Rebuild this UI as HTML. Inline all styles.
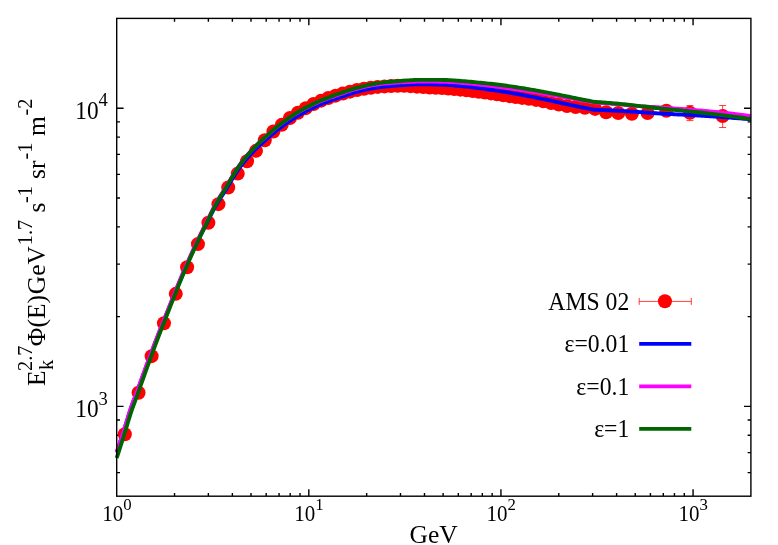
<!DOCTYPE html>
<html><head><meta charset="utf-8"><title>AMS 02 proton spectrum</title>
<style>html,body{margin:0;padding:0;background:#fff;}body{width:778px;height:545px;overflow:hidden;font-family:"Liberation Serif",serif;}svg{display:block;}</style></head>
<body>
<svg width="778" height="545" viewBox="0 0 778 545">
<rect x="0" y="0" width="778" height="545" fill="#fff"/>
<defs><clipPath id="pc"><rect x="113.7" y="18.4" width="640.20" height="477.80"/></clipPath></defs>
<path d="M174.53 496.2 v-3.3 M174.53 18.4 v3.3 M208.37 496.2 v-3.3 M208.37 18.4 v3.3 M232.37 496.2 v-3.3 M232.37 18.4 v3.3 M250.99 496.2 v-3.3 M250.99 18.4 v3.3 M266.20 496.2 v-3.3 M266.20 18.4 v3.3 M279.06 496.2 v-3.3 M279.06 18.4 v3.3 M290.20 496.2 v-3.3 M290.20 18.4 v3.3 M300.03 496.2 v-3.3 M300.03 18.4 v3.3 M308.82 496.2 v-6.9 M308.82 18.4 v6.9 M366.66 496.2 v-3.3 M366.66 18.4 v3.3 M400.49 496.2 v-3.3 M400.49 18.4 v3.3 M424.49 496.2 v-3.3 M424.49 18.4 v3.3 M443.11 496.2 v-3.3 M443.11 18.4 v3.3 M458.32 496.2 v-3.3 M458.32 18.4 v3.3 M471.18 496.2 v-3.3 M471.18 18.4 v3.3 M482.33 496.2 v-3.3 M482.33 18.4 v3.3 M492.15 496.2 v-3.3 M492.15 18.4 v3.3 M500.94 496.2 v-6.9 M500.94 18.4 v6.9 M558.78 496.2 v-3.3 M558.78 18.4 v3.3 M592.61 496.2 v-3.3 M592.61 18.4 v3.3 M616.61 496.2 v-3.3 M616.61 18.4 v3.3 M635.23 496.2 v-3.3 M635.23 18.4 v3.3 M650.44 496.2 v-3.3 M650.44 18.4 v3.3 M663.31 496.2 v-3.3 M663.31 18.4 v3.3 M674.45 496.2 v-3.3 M674.45 18.4 v3.3 M684.27 496.2 v-3.3 M684.27 18.4 v3.3 M693.07 496.2 v-6.9 M693.07 18.4 v6.9 M116.7 472.58 h3.3 M750.9 472.58 h-3.3 M116.7 452.62 h3.3 M750.9 452.62 h-3.3 M116.7 435.32 h3.3 M750.9 435.32 h-3.3 M116.7 420.07 h3.3 M750.9 420.07 h-3.3 M116.7 406.42 h6.9 M750.9 406.42 h-6.9 M116.7 316.64 h3.3 M750.9 316.64 h-3.3 M116.7 264.12 h3.3 M750.9 264.12 h-3.3 M116.7 226.86 h3.3 M750.9 226.86 h-3.3 M116.7 197.96 h3.3 M750.9 197.96 h-3.3 M116.7 174.34 h3.3 M750.9 174.34 h-3.3 M116.7 154.38 h3.3 M750.9 154.38 h-3.3 M116.7 137.08 h3.3 M750.9 137.08 h-3.3 M116.7 121.83 h3.3 M750.9 121.83 h-3.3 M116.7 108.18 h6.9 M750.9 108.18 h-6.9" stroke="#000" stroke-width="1.4" fill="none"/>
<g clip-path="url(#pc)">
<path d="M666.36 106.30 V115.50 M662.86 106.30 h7 M662.86 115.50 h7 M689.91 105.52 V120.62 M686.41 105.52 h7 M686.41 120.62 h7 M722.63 105.53 V127.53 M719.13 105.53 h7 M719.13 127.53 h7" stroke="#ff0000" stroke-width="1" stroke-opacity="0.75" fill="none"/>
<circle cx="124.82" cy="434.26" r="7.0" fill="#ff0000"/>
<circle cx="138.57" cy="392.77" r="7.0" fill="#ff0000"/>
<circle cx="151.61" cy="356.13" r="7.0" fill="#ff0000"/>
<circle cx="163.94" cy="323.32" r="7.0" fill="#ff0000"/>
<circle cx="175.77" cy="293.85" r="7.0" fill="#ff0000"/>
<circle cx="187.11" cy="267.27" r="7.0" fill="#ff0000"/>
<circle cx="197.93" cy="244.12" r="7.0" fill="#ff0000"/>
<circle cx="208.38" cy="222.74" r="7.0" fill="#ff0000"/>
<circle cx="218.43" cy="204.13" r="7.0" fill="#ff0000"/>
<circle cx="228.20" cy="187.44" r="7.0" fill="#ff0000"/>
<circle cx="237.74" cy="173.62" r="7.0" fill="#ff0000"/>
<circle cx="247.03" cy="161.29" r="7.0" fill="#ff0000"/>
<circle cx="256.02" cy="150.83" r="7.0" fill="#ff0000"/>
<circle cx="264.79" cy="140.30" r="7.0" fill="#ff0000"/>
<circle cx="273.37" cy="131.54" r="7.0" fill="#ff0000"/>
<circle cx="281.73" cy="124.85" r="7.0" fill="#ff0000"/>
<circle cx="289.92" cy="117.96" r="7.0" fill="#ff0000"/>
<circle cx="297.95" cy="112.73" r="7.0" fill="#ff0000"/>
<circle cx="305.80" cy="108.16" r="7.0" fill="#ff0000"/>
<circle cx="313.60" cy="104.06" r="7.0" fill="#ff0000"/>
<circle cx="321.11" cy="100.65" r="7.0" fill="#ff0000"/>
<circle cx="328.32" cy="98.07" r="7.0" fill="#ff0000"/>
<circle cx="335.57" cy="95.64" r="7.0" fill="#ff0000"/>
<circle cx="342.80" cy="93.53" r="7.0" fill="#ff0000"/>
<circle cx="349.96" cy="91.66" r="7.0" fill="#ff0000"/>
<circle cx="357.03" cy="90.06" r="7.0" fill="#ff0000"/>
<circle cx="363.98" cy="88.80" r="7.0" fill="#ff0000"/>
<circle cx="370.79" cy="87.71" r="7.0" fill="#ff0000"/>
<circle cx="377.63" cy="86.89" r="7.0" fill="#ff0000"/>
<circle cx="384.47" cy="86.40" r="7.0" fill="#ff0000"/>
<circle cx="391.10" cy="86.03" r="7.0" fill="#ff0000"/>
<circle cx="397.67" cy="85.82" r="7.0" fill="#ff0000"/>
<circle cx="404.17" cy="85.87" r="7.0" fill="#ff0000"/>
<circle cx="410.56" cy="86.17" r="7.0" fill="#ff0000"/>
<circle cx="416.96" cy="86.63" r="7.0" fill="#ff0000"/>
<circle cx="423.32" cy="87.10" r="7.0" fill="#ff0000"/>
<circle cx="429.63" cy="87.48" r="7.0" fill="#ff0000"/>
<circle cx="435.86" cy="87.72" r="7.0" fill="#ff0000"/>
<circle cx="442.08" cy="88.02" r="7.0" fill="#ff0000"/>
<circle cx="448.26" cy="88.46" r="7.0" fill="#ff0000"/>
<circle cx="454.38" cy="89.02" r="7.0" fill="#ff0000"/>
<circle cx="460.49" cy="89.66" r="7.0" fill="#ff0000"/>
<circle cx="466.62" cy="90.37" r="7.0" fill="#ff0000"/>
<circle cx="472.74" cy="91.10" r="7.0" fill="#ff0000"/>
<circle cx="478.83" cy="91.84" r="7.0" fill="#ff0000"/>
<circle cx="484.91" cy="92.58" r="7.0" fill="#ff0000"/>
<circle cx="490.99" cy="93.40" r="7.0" fill="#ff0000"/>
<circle cx="497.10" cy="94.27" r="7.0" fill="#ff0000"/>
<circle cx="503.40" cy="95.21" r="7.0" fill="#ff0000"/>
<circle cx="509.65" cy="96.13" r="7.0" fill="#ff0000"/>
<circle cx="515.79" cy="97.02" r="7.0" fill="#ff0000"/>
<circle cx="522.17" cy="97.88" r="7.0" fill="#ff0000"/>
<circle cx="528.98" cy="98.75" r="7.0" fill="#ff0000"/>
<circle cx="536.11" cy="99.92" r="7.0" fill="#ff0000"/>
<circle cx="543.43" cy="101.36" r="7.0" fill="#ff0000"/>
<circle cx="551.08" cy="102.98" r="7.0" fill="#ff0000"/>
<circle cx="558.92" cy="104.59" r="7.0" fill="#ff0000"/>
<circle cx="567.03" cy="106.04" r="7.0" fill="#ff0000"/>
<circle cx="575.62" cy="107.10" r="7.0" fill="#ff0000"/>
<circle cx="584.92" cy="107.83" r="7.0" fill="#ff0000"/>
<circle cx="595.06" cy="108.89" r="7.0" fill="#ff0000"/>
<circle cx="606.12" cy="112.27" r="7.0" fill="#ff0000"/>
<circle cx="618.24" cy="113.06" r="7.0" fill="#ff0000"/>
<circle cx="631.87" cy="113.70" r="7.0" fill="#ff0000"/>
<circle cx="647.63" cy="113.09" r="7.0" fill="#ff0000"/>
<circle cx="666.36" cy="110.80" r="7.0" fill="#ff0000"/>
<circle cx="689.91" cy="112.82" r="7.0" fill="#ff0000"/>
<circle cx="722.63" cy="115.93" r="7.0" fill="#ff0000"/>
<path d="M116.7 452.40 L118.7 446.37 L120.7 440.28 L122.7 434.15 L124.7 427.96 L126.7 421.60 L128.7 415.08 L130.7 408.77 L132.7 403.07 L134.7 397.91 L136.7 392.60 L138.7 387.15 L140.7 381.64 L142.7 376.13 L144.7 370.64 L146.7 365.24 L148.7 359.85 L150.7 354.49 L152.7 349.15 L154.7 343.87 L156.7 338.65 L158.7 333.51 L160.7 328.44 L162.7 323.42 L164.7 318.45 L166.7 313.48 L168.7 308.52 L170.7 303.53 L172.7 298.52 L174.7 293.53 L176.7 288.58 L178.7 283.70 L180.7 278.91 L182.7 274.22 L184.7 269.59 L186.7 265.02 L188.7 260.52 L190.7 256.10 L192.7 251.75 L194.7 247.49 L196.7 243.31 L198.7 239.22 L200.7 235.18 L202.7 231.20 L204.7 227.24 L206.7 223.30 L208.7 219.37 L210.7 215.39 L212.7 211.45 L214.7 207.66 L216.7 204.12 L218.7 200.82 L220.7 197.67 L222.7 194.59 L224.7 191.51 L226.7 188.35 L228.7 185.04 L230.7 181.61 L232.7 178.19 L234.7 174.89 L236.7 171.83 L238.7 168.95 L240.7 166.21 L242.7 163.58 L244.7 161.08 L246.7 158.68 L248.7 156.39 L250.7 154.18 L252.7 152.06 L254.7 150.01 L256.7 148.02 L258.7 146.10 L260.7 144.26 L262.7 142.47 L264.7 140.73 L266.7 139.01 L268.7 137.29 L270.7 135.56 L272.7 133.85 L274.7 132.17 L276.7 130.52 L278.7 128.95 L280.7 127.45 L282.7 125.98 L284.7 124.54 L286.7 123.13 L288.7 121.75 L290.7 120.40 L292.7 119.09 L294.7 117.81 L296.7 116.56 L298.7 115.36 L300.7 114.20 L302.7 113.07 L304.7 111.97 L306.7 110.90 L308.7 109.87 L310.7 108.86 L312.7 107.88 L314.7 106.93 L316.7 106.01 L318.7 105.12 L320.7 104.25 L322.7 103.43 L324.7 102.64 L326.7 101.89 L328.7 101.16 L330.7 100.46 L332.7 99.77 L334.7 99.10 L336.7 98.42 L338.7 97.74 L340.7 97.06 L342.7 96.37 L344.7 95.68 L346.7 95.00 L348.7 94.33 L350.7 93.68 L352.7 93.05 L354.7 92.44 L356.7 91.87 L358.7 91.33 L360.7 90.83 L362.7 90.35 L364.7 89.89 L366.7 89.45 L368.7 89.03 L370.7 88.64 L372.7 88.27 L374.7 87.92 L376.7 87.61 L378.7 87.32 L380.7 87.06 L382.7 86.82 L384.7 86.60 L386.7 86.39 L388.7 86.19 L390.7 86.00 L392.7 85.83 L394.7 85.66 L396.7 85.51 L398.7 85.36 L400.7 85.22 L402.7 85.08 L404.7 84.94 L406.7 84.80 L408.7 84.66 L410.7 84.53 L412.7 84.43 L414.7 84.34 L416.7 84.28 L418.7 84.25 L420.7 84.25 L422.7 84.27 L424.7 84.29 L426.7 84.31 L428.7 84.34 L430.7 84.37 L432.7 84.40 L434.7 84.44 L436.7 84.48 L438.7 84.52 L440.7 84.56 L442.7 84.63 L444.7 84.73 L446.7 84.86 L448.7 85.00 L450.7 85.17 L452.7 85.34 L454.7 85.52 L456.7 85.70 L458.7 85.89 L460.7 86.06 L462.7 86.25 L464.7 86.46 L466.7 86.67 L468.7 86.91 L470.7 87.15 L472.7 87.40 L474.7 87.65 L476.7 87.91 L478.7 88.16 L480.7 88.42 L482.7 88.68 L484.7 88.94 L486.7 89.21 L488.7 89.48 L490.7 89.75 L492.7 90.03 L494.7 90.32 L496.7 90.61 L498.7 90.90 L500.7 91.21 L502.7 91.52 L504.7 91.84 L506.7 92.17 L508.7 92.51 L510.7 92.86 L512.7 93.21 L514.7 93.57 L516.7 93.93 L518.7 94.29 L520.7 94.66 L522.7 95.03 L524.7 95.40 L526.7 95.78 L528.7 96.17 L530.7 96.56 L532.7 96.95 L534.7 97.34 L536.7 97.74 L538.7 98.14 L540.7 98.54 L542.7 98.95 L544.7 99.36 L546.7 99.78 L548.7 100.20 L550.7 100.63 L552.7 101.06 L554.7 101.50 L556.7 101.93 L558.7 102.37 L560.7 102.81 L562.7 103.25 L564.7 103.69 L566.7 104.14 L568.7 104.59 L570.7 105.03 L572.7 105.47 L574.7 105.90 L576.7 106.33 L578.7 106.74 L580.7 107.14 L582.7 107.53 L584.7 107.92 L586.7 108.31 L588.7 108.69 L590.7 109.08 L592.7 109.46 L594.0 109.70 L596.0 109.78 L598.0 109.86 L600.0 109.94 L602.0 110.03 L604.0 110.12 L606.0 110.21 L608.0 110.30 L610.0 110.39 L612.0 110.49 L614.0 110.59 L616.0 110.69 L618.0 110.79 L620.0 110.90 L622.0 111.01 L624.0 111.12 L626.0 111.24 L628.0 111.37 L630.0 111.50 L632.0 111.63 L634.0 111.76 L636.0 111.90 L638.0 112.04 L640.0 112.17 L642.0 112.31 L644.0 112.45 L646.0 112.59 L648.0 112.73 L650.0 112.86 L652.0 113.00 L654.0 113.13 L656.0 113.26 L658.0 113.38 L660.0 113.50 L662.0 113.62 L664.0 113.73 L666.0 113.83 L668.0 113.94 L670.0 114.04 L672.0 114.14 L674.0 114.24 L676.0 114.34 L678.0 114.44 L680.0 114.54 L682.0 114.64 L684.0 114.73 L686.0 114.83 L688.0 114.94 L690.0 115.04 L692.0 115.14 L694.0 115.25 L696.0 115.36 L698.0 115.48 L700.0 115.60 L702.0 115.72 L704.0 115.85 L706.0 115.97 L708.0 116.10 L710.0 116.23 L712.0 116.37 L714.0 116.50 L716.0 116.64 L718.0 116.77 L720.0 116.91 L722.0 117.05 L724.0 117.20 L726.0 117.34 L728.0 117.49 L730.0 117.64 L732.0 117.79 L734.0 117.94 L736.0 118.10 L738.0 118.25 L740.0 118.41 L742.0 118.57 L744.0 118.73 L746.0 118.89 L748.0 119.06 L750.0 119.22 L750.9 119.30" stroke="#0000ff" stroke-width="3.9" fill="none" stroke-linejoin="round"/>
<path d="M116.7 452.50 L118.7 446.41 L120.7 440.27 L122.7 434.09 L124.7 427.85 L126.7 421.46 L128.7 414.90 L130.7 408.56 L132.7 402.83 L134.7 397.66 L136.7 392.33 L138.7 386.88 L140.7 381.36 L142.7 375.84 L144.7 370.36 L146.7 364.95 L148.7 359.56 L150.7 354.18 L152.7 348.84 L154.7 343.55 L156.7 338.33 L158.7 333.18 L160.7 328.11 L162.7 323.09 L164.7 318.10 L166.7 313.12 L168.7 308.13 L170.7 303.12 L172.7 298.08 L174.7 293.06 L176.7 288.08 L178.7 283.17 L180.7 278.35 L182.7 273.62 L184.7 268.94 L186.7 264.32 L188.7 259.76 L190.7 255.27 L192.7 250.85 L194.7 246.49 L196.7 242.22 L198.7 238.03 L200.7 233.89 L202.7 229.79 L204.7 225.73 L206.7 221.68 L208.7 217.63 L210.7 213.53 L212.7 209.48 L214.7 205.58 L216.7 201.95 L218.7 198.57 L220.7 195.37 L222.7 192.24 L224.7 189.12 L226.7 185.92 L228.7 182.56 L230.7 179.09 L232.7 175.63 L234.7 172.29 L236.7 169.18 L238.7 166.28 L240.7 163.49 L242.7 160.83 L244.7 158.29 L246.7 155.86 L248.7 153.54 L250.7 151.30 L252.7 149.15 L254.7 147.07 L256.7 145.06 L258.7 143.11 L260.7 141.25 L262.7 139.44 L264.7 137.67 L266.7 135.92 L268.7 134.18 L270.7 132.43 L272.7 130.69 L274.7 128.97 L276.7 127.31 L278.7 125.70 L280.7 124.18 L282.7 122.69 L284.7 121.24 L286.7 119.81 L288.7 118.42 L290.7 117.06 L292.7 115.74 L294.7 114.47 L296.7 113.23 L298.7 112.05 L300.7 110.91 L302.7 109.80 L304.7 108.74 L306.7 107.70 L308.7 106.70 L310.7 105.73 L312.7 104.79 L314.7 103.89 L316.7 103.00 L318.7 102.15 L320.7 101.32 L322.7 100.52 L324.7 99.75 L326.7 98.99 L328.7 98.25 L330.7 97.53 L332.7 96.83 L334.7 96.13 L336.7 95.43 L338.7 94.75 L340.7 94.06 L342.7 93.37 L344.7 92.68 L346.7 91.99 L348.7 91.31 L350.7 90.65 L352.7 90.01 L354.7 89.40 L356.7 88.82 L358.7 88.28 L360.7 87.78 L362.7 87.30 L364.7 86.84 L366.7 86.39 L368.7 85.97 L370.7 85.57 L372.7 85.20 L374.7 84.86 L376.7 84.54 L378.7 84.26 L380.7 84.02 L382.7 83.79 L384.7 83.58 L386.7 83.39 L388.7 83.22 L390.7 83.06 L392.7 82.91 L394.7 82.77 L396.7 82.64 L398.7 82.52 L400.7 82.41 L402.7 82.30 L404.7 82.18 L406.7 82.06 L408.7 81.95 L410.7 81.84 L412.7 81.75 L414.7 81.68 L416.7 81.62 L418.7 81.60 L420.7 81.60 L422.7 81.62 L424.7 81.63 L426.7 81.64 L428.7 81.64 L430.7 81.65 L432.7 81.66 L434.7 81.67 L436.7 81.67 L438.7 81.68 L440.7 81.69 L442.7 81.72 L444.7 81.79 L446.7 81.87 L448.7 81.98 L450.7 82.10 L452.7 82.23 L454.7 82.37 L456.7 82.52 L458.7 82.66 L460.7 82.80 L462.7 82.95 L464.7 83.11 L466.7 83.29 L468.7 83.48 L470.7 83.68 L472.7 83.88 L474.7 84.09 L476.7 84.30 L478.7 84.51 L480.7 84.72 L482.7 84.93 L484.7 85.14 L486.7 85.35 L488.7 85.57 L490.7 85.80 L492.7 86.02 L494.7 86.26 L496.7 86.50 L498.7 86.74 L500.7 86.99 L502.7 87.25 L504.7 87.51 L506.7 87.79 L508.7 88.07 L510.7 88.35 L512.7 88.64 L514.7 88.93 L516.7 89.23 L518.7 89.53 L520.7 89.83 L522.7 90.13 L524.7 90.44 L526.7 90.76 L528.7 91.08 L530.7 91.40 L532.7 91.73 L534.7 92.06 L536.7 92.39 L538.7 92.73 L540.7 93.07 L542.7 93.41 L544.7 93.75 L546.7 94.10 L548.7 94.44 L550.7 94.79 L552.7 95.13 L554.7 95.48 L556.7 95.83 L558.7 96.18 L560.7 96.52 L562.7 96.88 L564.7 97.24 L566.7 97.60 L568.7 97.96 L570.7 98.33 L572.7 98.70 L574.7 99.06 L576.7 99.42 L578.7 99.77 L580.7 100.12 L582.7 100.46 L584.7 100.80 L586.7 101.13 L588.7 101.45 L590.7 101.78 L592.7 102.09 L594.0 102.30 L596.0 102.46 L598.0 102.62 L600.0 102.78 L602.0 102.94 L604.0 103.11 L606.0 103.27 L608.0 103.44 L610.0 103.61 L612.0 103.78 L614.0 103.96 L616.0 104.14 L618.0 104.32 L620.0 104.50 L622.0 104.68 L624.0 104.86 L626.0 105.03 L628.0 105.20 L630.0 105.36 L632.0 105.52 L634.0 105.68 L636.0 105.85 L638.0 106.01 L640.0 106.18 L642.0 106.34 L644.0 106.48 L646.0 106.61 L648.0 106.73 L650.0 106.85 L652.0 106.96 L654.0 107.07 L656.0 107.19 L658.0 107.31 L660.0 107.45 L662.0 107.59 L664.0 107.73 L666.0 107.87 L668.0 108.01 L670.0 108.16 L672.0 108.30 L674.0 108.44 L676.0 108.58 L678.0 108.73 L680.0 108.88 L682.0 109.03 L684.0 109.18 L686.0 109.33 L688.0 109.49 L690.0 109.65 L692.0 109.81 L694.0 109.98 L696.0 110.15 L698.0 110.32 L700.0 110.50 L702.0 110.68 L704.0 110.87 L706.0 111.06 L708.0 111.25 L710.0 111.44 L712.0 111.64 L714.0 111.83 L716.0 112.04 L718.0 112.24 L720.0 112.45 L722.0 112.66 L724.0 112.87 L726.0 113.09 L728.0 113.30 L730.0 113.52 L732.0 113.75 L734.0 113.97 L736.0 114.20 L738.0 114.44 L740.0 114.67 L742.0 114.91 L744.0 115.15 L746.0 115.39 L748.0 115.64 L750.0 115.89 L750.9 116.00" stroke="#ff00ff" stroke-width="3.9" fill="none" stroke-linejoin="round"/>
<path d="M116.7 458.00 L118.7 451.82 L120.7 445.58 L122.7 439.29 L124.7 432.95 L126.7 426.45 L128.7 419.78 L130.7 413.32 L132.7 407.46 L134.7 402.15 L136.7 396.68 L138.7 391.08 L140.7 385.42 L142.7 379.75 L144.7 374.12 L146.7 368.56 L148.7 363.04 L150.7 357.54 L152.7 352.08 L154.7 346.67 L156.7 341.32 L158.7 336.06 L160.7 330.87 L162.7 325.74 L164.7 320.65 L166.7 315.57 L168.7 310.49 L170.7 305.39 L172.7 300.27 L174.7 295.17 L176.7 290.12 L178.7 285.13 L180.7 280.24 L182.7 275.44 L184.7 270.70 L186.7 266.02 L188.7 261.40 L190.7 256.85 L192.7 252.37 L194.7 247.97 L196.7 243.65 L198.7 239.40 L200.7 235.21 L202.7 231.07 L204.7 226.96 L206.7 222.87 L208.7 218.77 L210.7 214.62 L212.7 210.50 L214.7 206.54 L216.7 202.84 L218.7 199.40 L220.7 196.13 L222.7 192.94 L224.7 189.76 L226.7 186.50 L228.7 183.09 L230.7 179.58 L232.7 176.07 L234.7 172.69 L236.7 169.55 L238.7 166.60 L240.7 163.78 L242.7 161.09 L244.7 158.51 L246.7 156.05 L248.7 153.69 L250.7 151.43 L252.7 149.25 L254.7 147.14 L256.7 145.10 L258.7 143.13 L260.7 141.24 L262.7 139.41 L264.7 137.62 L266.7 135.85 L268.7 134.08 L270.7 132.31 L272.7 130.55 L274.7 128.82 L276.7 127.13 L278.7 125.51 L280.7 123.97 L282.7 122.46 L284.7 120.99 L286.7 119.55 L288.7 118.14 L290.7 116.76 L292.7 115.42 L294.7 114.13 L296.7 112.87 L298.7 111.66 L300.7 110.50 L302.7 109.37 L304.7 108.27 L306.7 107.20 L308.7 106.17 L310.7 105.16 L312.7 104.18 L314.7 103.23 L316.7 102.31 L318.7 101.42 L320.7 100.55 L322.7 99.71 L324.7 98.90 L326.7 98.11 L328.7 97.34 L330.7 96.60 L332.7 95.86 L334.7 95.15 L336.7 94.44 L338.7 93.75 L340.7 93.06 L342.7 92.37 L344.7 91.68 L346.7 91.00 L348.7 90.33 L350.7 89.68 L352.7 89.05 L354.7 88.44 L356.7 87.87 L358.7 87.33 L360.7 86.83 L362.7 86.34 L364.7 85.87 L366.7 85.41 L368.7 84.96 L370.7 84.54 L372.7 84.15 L374.7 83.77 L376.7 83.44 L378.7 83.13 L380.7 82.86 L382.7 82.61 L384.7 82.37 L386.7 82.16 L388.7 81.95 L390.7 81.76 L392.7 81.57 L394.7 81.40 L396.7 81.24 L398.7 81.09 L400.7 80.95 L402.7 80.80 L404.7 80.65 L406.7 80.50 L408.7 80.36 L410.7 80.23 L412.7 80.11 L414.7 80.02 L416.7 79.95 L418.7 79.91 L420.7 79.90 L422.7 79.90 L424.7 79.90 L426.7 79.90 L428.7 79.90 L430.7 79.90 L432.7 79.90 L434.7 79.90 L436.7 79.90 L438.7 79.90 L440.7 79.90 L442.7 79.93 L444.7 79.99 L446.7 80.07 L448.7 80.17 L450.7 80.28 L452.7 80.41 L454.7 80.54 L456.7 80.68 L458.7 80.81 L460.7 80.95 L462.7 81.09 L464.7 81.24 L466.7 81.41 L468.7 81.59 L470.7 81.78 L472.7 81.97 L474.7 82.17 L476.7 82.37 L478.7 82.57 L480.7 82.77 L482.7 82.97 L484.7 83.17 L486.7 83.38 L488.7 83.59 L490.7 83.81 L492.7 84.03 L494.7 84.26 L496.7 84.50 L498.7 84.74 L500.7 84.99 L502.7 85.25 L504.7 85.52 L506.7 85.80 L508.7 86.08 L510.7 86.37 L512.7 86.67 L514.7 86.98 L516.7 87.29 L518.7 87.60 L520.7 87.91 L522.7 88.23 L524.7 88.55 L526.7 88.88 L528.7 89.22 L530.7 89.56 L532.7 89.91 L534.7 90.26 L536.7 90.61 L538.7 90.97 L540.7 91.33 L542.7 91.69 L544.7 92.06 L546.7 92.43 L548.7 92.81 L550.7 93.19 L552.7 93.57 L554.7 93.96 L556.7 94.35 L558.7 94.74 L560.7 95.14 L562.7 95.54 L564.7 95.95 L566.7 96.36 L568.7 96.78 L570.7 97.19 L572.7 97.61 L574.7 98.02 L576.7 98.44 L578.7 98.84 L580.7 99.24 L582.7 99.63 L584.7 100.02 L586.7 100.41 L588.7 100.79 L590.7 101.18 L592.7 101.56 L594.0 101.80 L596.0 101.94 L598.0 102.08 L600.0 102.23 L602.0 102.38 L604.0 102.53 L606.0 102.69 L608.0 102.85 L610.0 103.02 L612.0 103.19 L614.0 103.36 L616.0 103.54 L618.0 103.72 L620.0 103.90 L622.0 104.09 L624.0 104.29 L626.0 104.49 L628.0 104.71 L630.0 104.92 L632.0 105.15 L634.0 105.38 L636.0 105.61 L638.0 105.84 L640.0 106.08 L642.0 106.32 L644.0 106.56 L646.0 106.79 L648.0 107.03 L650.0 107.27 L652.0 107.50 L654.0 107.73 L656.0 107.96 L658.0 108.18 L660.0 108.40 L662.0 108.61 L664.0 108.82 L666.0 109.03 L668.0 109.23 L670.0 109.43 L672.0 109.63 L674.0 109.83 L676.0 110.03 L678.0 110.22 L680.0 110.42 L682.0 110.62 L684.0 110.82 L686.0 111.02 L688.0 111.22 L690.0 111.42 L692.0 111.63 L694.0 111.84 L696.0 112.06 L698.0 112.28 L700.0 112.50 L702.0 112.73 L704.0 112.96 L706.0 113.19 L708.0 113.42 L710.0 113.66 L712.0 113.90 L714.0 114.14 L716.0 114.39 L718.0 114.63 L720.0 114.88 L722.0 115.13 L724.0 115.38 L726.0 115.64 L728.0 115.90 L730.0 116.16 L732.0 116.42 L734.0 116.68 L736.0 116.95 L738.0 117.22 L740.0 117.49 L742.0 117.76 L744.0 118.03 L746.0 118.31 L748.0 118.59 L750.0 118.87 L750.9 119.00" stroke="#006400" stroke-width="3.9" fill="none" stroke-linejoin="round"/>
</g>
<rect x="116.7" y="18.4" width="634.20" height="477.80" fill="none" stroke="#000" stroke-width="1.4"/>
<g font-family='"Liberation Serif", serif' fill="#000" opacity="0.999">
<text transform="translate(116.90 521.40) scale(1 1.05)" text-anchor="middle" font-size="21.0">10<tspan font-size="16.8" dy="-11.3">0</tspan></text>
<text transform="translate(309.02 521.40) scale(1 1.05)" text-anchor="middle" font-size="21.0">10<tspan font-size="16.8" dy="-11.3">1</tspan></text>
<text transform="translate(501.14 521.40) scale(1 1.05)" text-anchor="middle" font-size="21.0">10<tspan font-size="16.8" dy="-11.3">2</tspan></text>
<text transform="translate(693.27 521.40) scale(1 1.05)" text-anchor="middle" font-size="21.0">10<tspan font-size="16.8" dy="-11.3">3</tspan></text>
<text transform="translate(107.90 417.42) scale(1 1.04)" text-anchor="end" font-size="23.3">10<tspan font-size="18.6" dy="-12.3">3</tspan></text>
<text transform="translate(107.90 119.18) scale(1 1.04)" text-anchor="end" font-size="23.3">10<tspan font-size="18.6" dy="-12.3">4</tspan></text>
<text transform="translate(433.70 542.70)" text-anchor="middle" font-size="25.5">GeV</text>
<text transform="translate(45.10 386.00) rotate(-90)" text-anchor="start" font-size="25.5">E</text>
<text transform="translate(53.20 370.00) rotate(-90)" text-anchor="start" font-size="20.4">k</text>
<text transform="translate(32.00 371.00) rotate(-90)" text-anchor="start" font-size="20.4">2.7</text>
<text transform="translate(45.10 346.20) rotate(-90)" text-anchor="start" font-size="25.5">Φ(E)</text>
<text transform="translate(45.10 294.20) rotate(-90)" text-anchor="start" font-size="25.5">GeV</text>
<text transform="translate(32.00 245.20) rotate(-90)" text-anchor="start" font-size="20.4">1.7</text>
<text transform="translate(45.10 212.50) rotate(-90)" text-anchor="start" font-size="25.5">s</text>
<text transform="translate(32.00 203.00) rotate(-90)" text-anchor="start" font-size="20.4">-1</text>
<text transform="translate(45.10 179.00) rotate(-90)" text-anchor="start" font-size="25.5">sr</text>
<text transform="translate(32.00 159.50) rotate(-90)" text-anchor="start" font-size="20.4">-1</text>
<text transform="translate(45.10 136.10) rotate(-90)" text-anchor="start" font-size="25.5">m</text>
<text transform="translate(32.00 115.60) rotate(-90)" text-anchor="start" font-size="20.4">-2</text>
<text transform="translate(629.30 309.80) scale(1 1.035)" text-anchor="end" font-size="23.7">AMS 02</text>
<text transform="translate(629.30 352.30) scale(1 1.035)" text-anchor="end" font-size="23.7">ε=0.01</text>
<text transform="translate(629.30 394.80) scale(1 1.035)" text-anchor="end" font-size="23.7">ε=0.1</text>
<text transform="translate(629.30 437.30) scale(1 1.035)" text-anchor="end" font-size="23.7">ε=1</text>
</g>
<path d="M639.2 301.4 H691.3 M639.2 297.9 v7 M691.3 297.9 v7" stroke="#ff0000" stroke-width="1" stroke-opacity="0.75" fill="none"/>
<circle cx="664.95" cy="301.29999999999995" r="7.0" fill="#ff0000"/>
<path d="M639.2 343.9 H691.3" stroke="#0000ff" stroke-width="3.9" fill="none"/>
<path d="M639.2 386.4 H691.3" stroke="#ff00ff" stroke-width="3.9" fill="none"/>
<path d="M639.2 428.9 H691.3" stroke="#006400" stroke-width="3.9" fill="none"/>
</svg>
</body></html>
